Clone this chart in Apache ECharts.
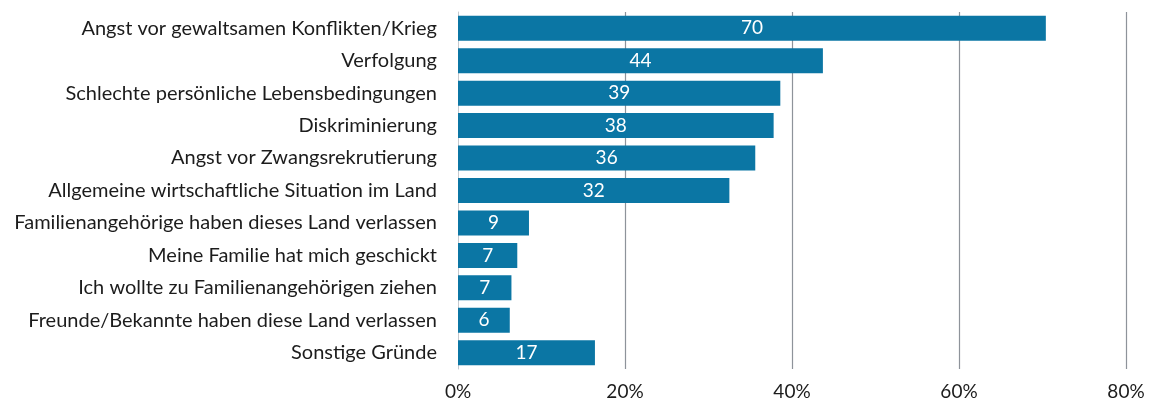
<!DOCTYPE html>
<html>
<head>
<meta charset="utf-8">
<script src="https://cdn.jsdelivr.net/npm/echarts@6/dist/echarts.min.js"></script>
<style>
  html, body { margin: 0; padding: 0; background: #fff; }
  #chart { width: 1152px; height: 408px; }
</style>
</head>
<body>
<div id="chart"></div>
<script>
var categories = [
    'Angst vor gewaltsamen Konflikten/Krieg',
    'Verfolgung',
    'Schlechte persönliche Lebensbedingungen',
    'Diskriminierung',
    'Angst vor Zwangsrekrutierung',
    'Allgemeine wirtschaftliche Situation im Land',
    'Familienangehörige haben dieses Land verlassen',
    'Meine Familie hat mich geschickt',
    'Ich wollte zu Familienangehörigen ziehen',
    'Freunde/Bekannte haben diese Land verlassen',
    'Sonstige Gründe'
];
// bar lengths
var values = [70.4, 43.7, 38.6, 37.8, 35.6, 32.5, 8.5, 7.1, 6.4, 6.2, 16.4];
// numbers printed on the bars
var barLabels = [70, 44, 39, 38, 36, 32, 9, 7, 7, 6, 17];
var tickValues = [0, 20, 40, 60, 80];

var chart = echarts.init(document.getElementById('chart'));
chart.setOption({
    animation: false,
    grid: { left: 458, right: 26, top: 12, bottom: 39 },
    xAxis: {
        type: 'value',
        min: tickValues[0],
        max: tickValues[tickValues.length - 1],
        interval: 20,
        axisLine: { show: false },
        axisTick: { show: false },
        splitLine: {
            lineStyle: { color: '#8e939a', width: 1.2 },
            showMinLine: false
        },
        axisLabel: {
            margin: 13,
            color: '#1c1c1c',
            fontFamily: 'Lato',
            fontSize: 19,
            formatter: '{value}%'
        }
    },
    yAxis: {
        type: 'category',
        inverse: true,
        data: categories,
        axisLine: { show: true, lineStyle: { color: '#c5c9ce', width: 1 } },
        axisTick: { show: false },
        axisLabel: {
            margin: 21,
            color: '#1c1c1c',
            fontFamily: 'Lato',
            fontSize: 20
        }
    },
    series: [{
        type: 'bar',
        data: values,
        barWidth: 25,
        itemStyle: { color: '#0b76a4' },
        label: {
            show: true,
            position: 'inside',
            color: '#ffffff',
            fontFamily: 'Lato',
            fontSize: 19,
            formatter: function (p) { return barLabels[p.dataIndex]; }
        }
    }]
});
</script>
</body>
</html>
